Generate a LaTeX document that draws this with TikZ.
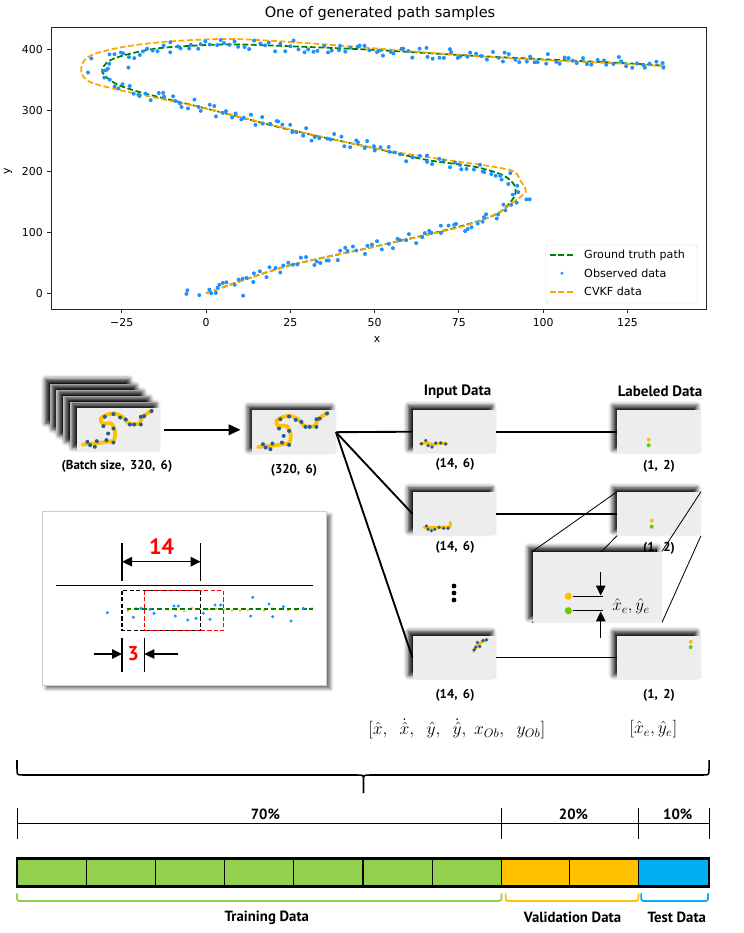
\documentclass[tikz,border=0pt]{standalone}
\usepackage{fix-cm}
\usepackage{fontspec}
\setmainfont{PT Sans}
\newfontfamily\plotfont{DejaVu Sans}
\usetikzlibrary{arrows.meta,calc,shadows.blur,decorations.markings}

\definecolor{cardgray}{HTML}{EDEDED}
\definecolor{sampleyellow}{HTML}{FFC000}
\definecolor{sampleblue}{HTML}{1F5C99}
\definecolor{plotgreen}{HTML}{008000}
\definecolor{plotorange}{HTML}{FFA500}
\definecolor{plotblue}{HTML}{1E90FF}
\definecolor{labgreen}{HTML}{66CC00}
\definecolor{traingreen}{HTML}{92D050}
\definecolor{valyellow}{HTML}{FFC000}
\definecolor{testblue}{HTML}{00B0F0}

\newcommand\pxl{0.03cm}

% S-shaped sample path, card-local pixels
\newcommand\drawsample[1]{%
  \begin{scope}[shift={(#1)}]
    \draw[sample curve] plot[smooth] coordinates {(6,36.7) (17.7,35.7) (31,34) (37.7,32.3) (38.4,22.3) (34.4,15.7) (26,15.7) (24.4,10.7) (29.4,7.3) (37.7,5.7) (46,9) (52.7,15.7) (62.7,15.7) (66,9) (76,2.3)};
    \foreach \a/\b in {11/34, 13.7/37.3, 18.4/39, 20.4/33.3, 30/32.3, 37/34.7, 31.7/25.7, 37/20.7, 27/18.3, 28.4/9, 37/6.3, 43.7/9.7, 49.4/11.7, 53.4/16.7, 57.7/16.7, 64.4/16.7, 64.4/9, 67.7/8.3, 75/3.3}
      \fill[sampleblue] (\a,\b) circle (2);
  \end{scope}}

\tikzset{
  card/.style={fill=cardgray, inner sep=0pt, minimum width={83.5*\pxl}, minimum height={43.5*\pxl},
    blur shadow={shadow xshift=-3.5pt, shadow yshift=3.5pt, shadow blur radius=4pt, shadow opacity=95}},
  sample curve/.style={sampleyellow, line width=3.2pt, line cap=round},
  input curve/.style={sampleyellow, line width=2.6pt, line cap=round},
  lbl/.style={font=\fontsize{11}{13}\selectfont\bfseries, inner sep=0pt},
  coltitle/.style={font=\fontsize{12.8}{15}\selectfont\bfseries, inner sep=0pt},
  bottomlbl/.style={font=\fontsize{12.6}{15}\selectfont\bfseries, inner sep=0pt},
  redlbl/.style={red, font=\fontsize{19}{22}\selectfont\bfseries, inner sep=0pt},
  mathlbl/.style={font=\fontsize{15}{18}\selectfont, inner sep=0pt},
  ticklbl/.style={font=\plotfont\fontsize{9.3}{11}\selectfont, inner sep=0pt},
  legendlbl/.style={font=\plotfont\fontsize{9.5}{11}\selectfont, inner sep=0pt, anchor=west},
  axisline/.style={black!85, line width=0.8pt},
  truth/.style={plotgreen, line width=1.5pt, dash pattern=on 5pt off 2.2pt},
  cvkf/.style={plotorange, line width=1.5pt, dash pattern=on 5pt off 2.2pt},
  link/.style={line width=1.6pt},
  zoomline/.style={line width=0.7pt},
  flowarrow/.style={line width=1.3pt, -{Triangle[length=0.35cm, width=0.32cm]}},
  dimarrow/.style={line width=1.3pt, -{Triangle[length=0.3cm, width=0.28cm]}},
  dimbar/.style={line width=1.3pt},
  dimline/.style={line width=0.8pt},
  segline/.style={line width=1pt},
  bracket/.style={line width=1.5pt, rounded corners=2pt}
}

\begin{document}
\begin{tikzpicture}[x={(\pxl,0)}, y={(0,-\pxl)}]
\useasboundingbox (0,0) rectangle (743,933);
\pgfmathsetseed{11}

% ---------- plot ----------
\node[font=\plotfont\fontsize{12.4}{14}\selectfont, inner sep=0pt] (plottitle) at (380,13) {One of generated path samples};
\begin{scope}[shift={(206,293.3)}, x={(3.372*\pxl,0)}, y={(0,0.61*\pxl)}]
  \draw[truth] plot[smooth] coordinates {(0,0) (23.5,43.7) (50,76.5) (75,109) (86.5,131) (91.4,158) (91.4,177.6) (87.9,194) (79.5,207.6) (65.5,218.6) (50,237.7) (25,267.8) (0,303) (-18.5,328) (-26.9,344) (-30.8,363) (-29,380) (-24,390.7) (-14.3,401.6) (0,407) (9.5,408) (25,405) (50,399) (75,390.7) (100,383.6) (125,377) (136,373)};
  \draw[cvkf] plot[smooth] coordinates {(0,0) (23.5,43.7) (50,76.5) (75,108) (86,130) (90.7,147.5) (94.8,166.7) (93.4,183) (91.4,199.5) (85,207.6) (68.3,221) (50,237.7) (25,268.5) (0,303) (-25.5,333) (-34.6,347) (-37,363.4) (-36,382.5) (-32.5,393.4) (-24,404.4) (-11.5,412.6) (6.7,417) (26.3,411.5) (50,401.6) (75,390.7) (100,382.5) (125,376) (136,372)};
  \path[decorate, decoration={markings, mark=between positions 0.003 and 0.999 step 1.45mm with {\fill[plotblue] ({2*rand*1pt},{5*rand*1pt}) circle (1.7pt);}}]
    plot[smooth] coordinates {(0,0) (23.5,43.7) (50,76.5) (75,109) (86.5,131) (91.4,158) (91.4,177.6) (87.9,194) (79.5,207.6) (65.5,218.6) (50,237.7) (25,267.8) (0,303) (-18.5,328) (-26.9,344) (-30.8,363) (-29,380) (-24,390.7) (-14.3,401.6) (0,407) (9.5,408) (25,405) (50,399) (75,390.7) (100,383.6) (125,377) (138,371)};
  \foreach \a/\b in {-5.5/5, -5.8/-1, -2/-3, 11/-4, 1/6, 4/14, 95/154, 96/154, -35/362, -34/385, -23/370}
    \fill[plotblue] (\a,\b) circle (1.7pt);
\end{scope}
\draw[axisline] (51,27) rectangle (706,309);
\foreach \v/\t in {-25/−25, 0/0, 25/25, 50/50, 75/75, 100/100, 125/125} {
  \draw[axisline] ({206+3.372*\v},309) -- ++(0,4);
  \node[ticklbl] (xt\v) at ({206+3.372*\v},323) {\t};
}
\foreach \v in {0,100,...,400} {
  \draw[axisline] (51,{293.3-0.61*\v}) -- ++(-4,0);
  \node[ticklbl, anchor=east] (yt\v) at (43,{293.3-0.61*\v}) {\v};
}
\node[ticklbl] (xlabel) at (377,340) {x};
\node[ticklbl, rotate=90] (ylabel) at (8,171) {y};
\node[draw=black!15, fill=white, rounded corners=2pt, minimum width={151*\pxl}, minimum height={58*\pxl}] (legend) at (621.5,274) {};
\draw[truth] (550,255) -- (574,255);
\node[legendlbl] (lgtruth) at (584,255) {Ground truth path};
\fill[plotblue] (562,273.3) circle (1.6);
\node[legendlbl] (lgobs) at (584,273.3) {Observed data};
\draw[cvkf] (550,291.7) -- (574,291.7);
\node[legendlbl] (lgcvkf) at (584,291.7) {CVKF data};

% ---------- batch and sample ----------
\foreach \k in {0,...,3}
  \node[card] (back\k) at ({91.5+6.7*\k},{405.4+6.1*\k}) {};
\node[card] (batch) at (118.4,429.8) {};
\drawsample{batch.north west}
\node[lbl] (batchlbl) at (117,466.7) {(Batch size,\, 320,\, 6)};
\node[card] (sample) at (294,432.2) {};
\drawsample{sample.north west}
\node[lbl] (samplelbl) at (294,470) {(320,\, 6)};
\draw[flowarrow, shorten <=3pt, shorten >=0.35cm] (batch.east) -- (batch.east -| sample.west);

% ---------- input / labeled data ----------
\node[coltitle] (intitle) at (457.5,391.7) {Input Data};
\node[coltitle] (labtitle) at (660,391.7) {Labeled Data};
\node[card] (in1) at (454.4,431.7) {};
\node[card] (in2) at (454.4,513.7) {};
\node[card] (in3) at (454.4,657.5) {};
\node[lbl] (in1lbl) at (455,464.3) {(14,\, 6)};
\node[lbl] (in2lbl) at (455,547.7) {(14,\, 6)};
\node[lbl] (in3lbl) at (455,695) {(14,\, 6)};
\node[card] (lab1) at (659,431.7) {};
\node[card] (lab2) at (659,513.7) {};
\node[card] (lab3) at (659,657.5) {};
\node[lbl] (lab1lbl) at (659,466.7) {(1,\, 2)};
\node[lbl] (lab2lbl) at (659,548.3) {(1,\, 2)};
\node[lbl] (lab3lbl) at (659,695) {(1,\, 2)};

\begin{scope}[shift={(in1.north west)}]
  \draw[input curve] plot[smooth] coordinates {(8,34.5) (14,33) (20,35) (27,33.5) (34,34)};
  \foreach \a/\b in {9/34, 13.3/30.7, 15.6/36, 19.6/37.3, 23.3/33.3, 28.3/33.3, 33.3/34.3}
    \fill[sampleblue] (\a,\b) circle (1.8);
\end{scope}
\begin{scope}[shift={(in2.north west)}]
  \draw[input curve] plot[smooth] coordinates {(11.6,35.6) (20,36) (30,35.5) (37.3,35) (38,30.6)};
  \foreach \a/\b in {14/34.3, 15.6/37.6, 19/39, 22.3/37.6, 26.6/35.6, 31.3/36.6, 35.6/36.6}
    \fill[sampleblue] (\a,\b) circle (1.8);
\end{scope}
\begin{scope}[shift={(in3.north west)}]
  \draw[input curve] plot[smooth] coordinates {(61.3,16) (65,10) (70,6) (74.7,4.3)};
  \foreach \a/\b in {61.6/14.3, 63.3/11.6, 65/7, 67.3/11, 70.6/5, 74/4.3}
    \fill[sampleblue] (\a,\b) circle (1.8);
\end{scope}

\fill[sampleyellow] ($(lab1.center)+(-10.3,7.9)$) circle (2);
\fill[labgreen] ($(lab1.center)+(-10.3,13.6)$) circle (2);
\fill[sampleyellow] ($(lab2.center)+(-7.3,7)$) circle (2);
\fill[labgreen] ($(lab2.center)+(-7.3,13)$) circle (2);
\fill[sampleyellow] ($(lab3.center)+(31.7,-15.7)$) circle (2);
\fill[labgreen] ($(lab3.center)+(31.7,-10.4)$) circle (2);

\draw[link] (sample.east) -- (in1.west);
\draw[link] (sample.east) -- (in2.west);
\draw[link] (sample.east) -- (in3.west);
\draw[link] (in1.east) -- (lab1.west);
\draw[link] (in2.east) -- (lab2.west);
\draw[link] (in3.east) -- (lab3.west);
\foreach \yy in {586,593,600}
  \fill (454,\yy) circle (2.4);

% ---------- zoomed label ----------
\node[card, minimum width={129*\pxl}, minimum height={70.6*\pxl}] (zoom) at (597.2,587) {};
\draw[zoomline] (lab2.north west) -- (zoom.north west);
\draw[zoomline] (lab2.south west) -- (zoom.south west);
\draw[zoomline] (lab2.north east) -- (zoom.north east);
\draw[zoomline] (lab2.south east) -- (zoom.south east);
\node[fill=cardgray, inner sep=0pt, minimum width={129*\pxl}, minimum height={70.6*\pxl}] (zoomface) at (zoom.center) {};
\fill[sampleyellow] (568.3,596.3) circle (3.6);
\fill[labgreen] (568.3,610.7) circle (3.6);
\draw[line width=1.2pt] (573.3,596.3) -- (603.3,596.3);
\draw[line width=1.2pt] (573.3,610.7) -- (603.3,610.7);
\coordinate (downtail) at (600.7,571.7);
\coordinate (uptail) at (600.7,638);
\draw[dimarrow] (downtail) -- (600.7,595.6);
\draw[dimarrow] (uptail) -- (600.7,611.4);
\node[mathlbl, font=\fontsize{14.5}{17}\selectfont] (zoomlbl) at (631,606.7) {$\hat{x}_e,\hat{y}_e$};

% ---------- equations ----------
\node[mathlbl] (inputvec) at (456.7,729) {$[\hat{x},\ \ \dot{\hat{x}},\ \ \hat{y},\ \ \dot{\hat{y}},\ x_{Ob},\ \ y_{Ob}]$};
\node[mathlbl] (labelvec) at (653.3,729) {$[\hat{x}_e,\hat{y}_e]$};

% ---------- window inset ----------
\node[fill=white, draw=black!20, inner sep=0pt, minimum width={284*\pxl}, minimum height={173.3*\pxl},
  blur shadow={shadow xshift=3pt, shadow yshift=-3pt, shadow blur radius=3pt, shadow opacity=60}] (inset) at (184.7,598.3) {};
\draw[line width=0.8pt] (56,585) -- (312.7,585);
\draw[dimbar] (122,543.3) -- (122,580.7);
\draw[dimbar] (200.7,543.3) -- (200.7,580.7);
\draw[dimarrow, {Triangle[length=0.3cm, width=0.28cm]}-{Triangle[length=0.3cm, width=0.28cm]}] (122,561.7) -- (200.7,561.7);
\node[redlbl] (winlbl) at (161.7,546.7) {14};
\foreach \xx in {128,136,...,312}
  \fill[plotorange] (\xx,{609.5+2*rand}) circle (1.2);
\draw[plotgreen, line width=1.4pt, dash pattern=on 4pt off 2.5pt] (126.7,609.3) -- (312.7,609.3);
\foreach \a/\b in {107.3/612.7, 133.3/617.3, 141/608.3, 150/609.3, 154/613.3, 174/606, 178.3/606, 175.3/616, 187.7/620, 196/618.3, 203.3/613.3, 210/619.3, 215/605, 220.7/605, 252.7/597.3, 250.7/616, 269/604, 272.7/616.7, 283.3/606.7, 291/621, 303.3/608.3}
  \fill[plotblue] (\a,\b) circle (1.7);
\draw[line width=1.1pt, dash pattern=on 3.5pt off 2pt] (122,590.7) rectangle (200.7,630.7);
\draw[red, line width=1.1pt, dash pattern=on 3.5pt off 2pt] (144.3,590.7) rectangle (223.3,630.7);
\draw[dimbar] (122,638.3) -- (122,671.7);
\draw[dimbar] (144.3,638.3) -- (144.3,671.7);
\coordinate (lefttail) at (94,654);
\coordinate (righttail) at (178.3,654);
\draw[dimarrow] (lefttail) -- (122,654);
\draw[dimarrow] (righttail) -- (144.3,654);
\node[redlbl, font=\fontsize{17}{20}\selectfont\bfseries] (steplbl) at (133.2,653.3) {3};

% ---------- split ----------
\draw[line width=1.3pt] (17,760) -- (17,769) .. controls (17,775) .. (23,775) -- (357.5,775) .. controls (363.5,775) .. (363.5,781) -- (363.5,793)
  -- (363.5,781) .. controls (363.5,775) .. (369.5,775) -- (703,775) .. controls (709,775) .. (709,769) -- (709,760);
\draw[dimline] (17,823.3) -- (709,823.3);
\foreach \xx in {17,501.4,638.4,709}
  \draw[dimline] (\xx,807.7) -- (\xx,839);
\node[bottomlbl] (p70) at (265.4,814) {70\%};
\node[bottomlbl] (p20) at (573.5,814) {20\%};
\node[bottomlbl] (p10) at (677.7,814) {10\%};
\foreach \i in {0,...,6}
  \draw[segline, fill=traingreen] ({17+69.2*\i},858.3) rectangle ++(69.2,28.4);
\foreach \i in {0,1}
  \draw[segline, fill=valyellow] ({501.4+68.5*\i},858.3) rectangle ++(68.5,28.4);
\draw[segline, fill=testblue] (638.4,858.3) rectangle (709,886.7);
\draw[line width=2.2pt] (17,858.3) rectangle (709,886.7);
\draw[traingreen, bracket] (17,893.3) |- (501.4,901) -- (501.4,893.3);
\draw[valyellow, bracket] (505.7,893.3) |- (638.4,901) -- (638.4,893.3);
\draw[testblue, bracket] (641.2,893.3) |- (708,901) -- (708,893.3);
\node[bottomlbl] (trainlbl) at (266.8,917.7) {Training Data};
\node[bottomlbl] (vallbl) at (572.5,917.7) {Validation Data};
\node[bottomlbl] (testlbl) at (676.8,917.7) {Test Data};
\end{tikzpicture}
\end{document}
